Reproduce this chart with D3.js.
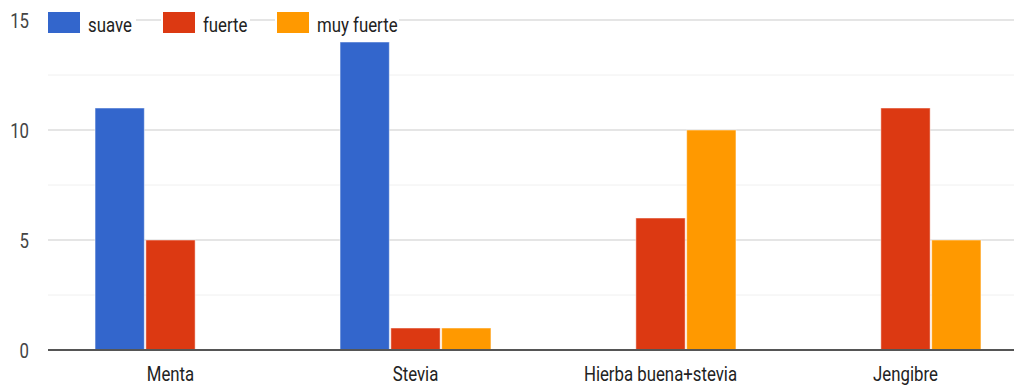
<!DOCTYPE html>
<html>
<head>
<meta charset="utf-8">
<script src="https://cdn.jsdelivr.net/npm/d3@7"></script>
<style>
  body { margin: 0; background: #fff; }
  text { font-family: Roboto, Arial, sans-serif; }
</style>
</head>
<body>
<script>
// data
const categories = ["Menta", "Stevia", "Hierba buena+stevia", "Jengibre"];
const seriesNames = ["suave", "fuerte", "muy fuerte"];
const suave = [11, 14, 0, 0];
const fuerte = [5, 1, 6, 11];
const muyFuerte = [0, 1, 10, 5];
const colors = ["#3366cc", "#dc3912", "#ff9900"];
const yTicks = [0, 5, 10, 15];
const yMinor = [2.5, 7.5, 12.5];

const w = 1014, h = 387;
const plotLeft = 48, plotRight = 1028, plotTop = 20, plotBottom = 350;
const fontSize = 21, squeeze = 0.8;  // picture text is tall and narrow

let svg = d3.select("body").append("svg")
  .attr("width", w)
  .attr("height", h);

let x0 = d3.scaleBand().domain(categories).range([plotLeft, plotRight]).paddingInner(0.384).paddingOuter(0.192);
let x1 = d3.scaleBand().domain(seriesNames).range([0, x0.bandwidth()]).paddingInner(0.03);
let y = d3.scaleLinear().domain([0, 15]).range([plotBottom, plotTop]);

// helper for squeezed text
function place(x, yy) {
  return "translate(" + x + "," + yy + ") scale(" + squeeze + ",1)";
}

// gridlines
svg.append("g").selectAll("line")
  .data(yMinor).enter().append("line")
  .attr("x1", plotLeft).attr("x2", w)
  .attr("y1", d => y(d)).attr("y2", d => y(d))
  .attr("stroke", "#f0f0f0").attr("stroke-width", 1);
svg.append("g").selectAll("line")
  .data(yTicks.filter(d => d > 0)).enter().append("line")
  .attr("x1", plotLeft).attr("x2", w)
  .attr("y1", d => y(d)).attr("y2", d => y(d))
  .attr("stroke", "#dcdcdc").attr("stroke-width", 1.5);

// y labels
svg.append("g").selectAll("text")
  .data(yTicks).enter().append("text")
  .attr("transform", d => place(29, y(d) + 8))
  .attr("text-anchor", "end")
  .attr("font-size", fontSize)
  .attr("fill", "#444")
  .text(d => d);

// bars
const rows = categories.map((c, i) => ({cat: c, vals: [suave[i], fuerte[i], muyFuerte[i]]}));
let groups = svg.append("g").selectAll("g")
  .data(rows).enter().append("g")
  .attr("transform", d => "translate(" + x0(d.cat) + ",0)");
groups.selectAll("rect")
  .data(d => d.vals.map((v, j) => ({name: seriesNames[j], v: v, j: j})).filter(e => e.v > 0))
  .enter().append("rect")
  .attr("x", d => x1(d.name))
  .attr("width", x1.bandwidth())
  .attr("y", d => y(d.v))
  .attr("height", d => y(0) - y(d.v))
  .attr("fill", d => colors[d.j])
  .attr("stroke", "#fff")
  .attr("stroke-opacity", 0.5)
  .attr("stroke-width", 1);

// baseline
svg.append("line")
  .attr("x1", plotLeft).attr("x2", w)
  .attr("y1", y(0)).attr("y2", y(0))
  .attr("stroke", "#555").attr("stroke-width", 2);

// x labels
svg.append("g").selectAll("text")
  .data(categories).enter().append("text")
  .attr("transform", d => place(x0(d) + x0.bandwidth() / 2, 381))
  .attr("text-anchor", "middle")
  .attr("font-size", fontSize)
  .attr("fill", "#222")
  .text(d => d);

// legend (sits on the 15 gridline, which shows between items)
const legendX = [48, 163, 277];
const legendTextW = [48, 47, 82];
let legend = svg.append("g").selectAll("g")
  .data(seriesNames).enter().append("g")
  .attr("transform", (d, i) => "translate(" + legendX[i] + ",0)");
legend.append("rect")
  .attr("x", -2).attr("y", 10).attr("height", 26)
  .attr("width", (d, i) => 40 + legendTextW[i] + 2)
  .attr("fill", "#fff");
legend.append("rect")
  .attr("x", 0).attr("y", 12).attr("width", 32).attr("height", 21)
  .attr("fill", (d, i) => colors[i]);
legend.append("text")
  .attr("transform", place(40, 32))
  .attr("font-size", fontSize)
  .attr("fill", "#222")
  .text(d => d);
</script>
</body>
</html>
